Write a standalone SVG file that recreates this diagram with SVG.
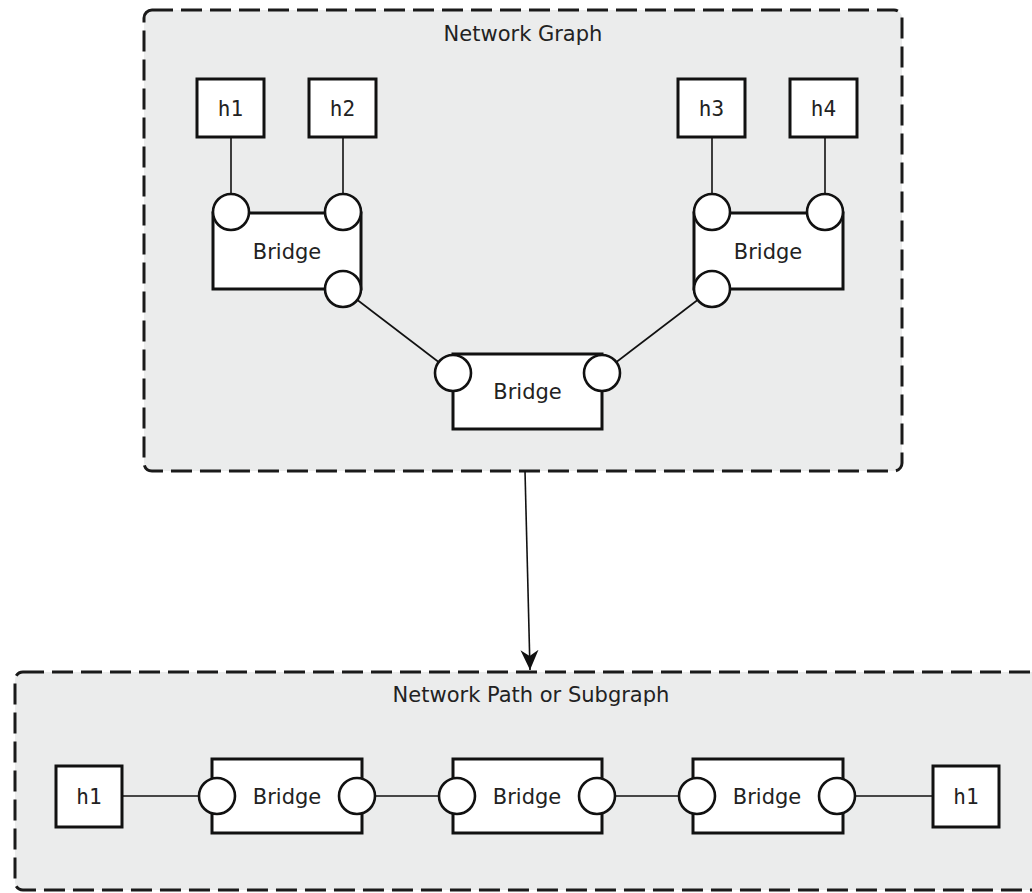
<svg xmlns="http://www.w3.org/2000/svg" width="1032" height="893" viewBox="0 0 1032 893">
<style>
.bg{fill:#fff}
.grp{fill:#ebecec;stroke:#1a1a1a;stroke-width:3;stroke-dasharray:21 8}
.box{fill:#fff;stroke:#111;stroke-width:3}
.port{fill:#fff;stroke:#111;stroke-width:2.6}
.ln{stroke:#111;stroke-width:1.6;fill:none}
.t{font-family:"DejaVu Sans",sans-serif;font-size:21px;fill:#222;text-anchor:middle}
.m{font-family:"DejaVu Sans Mono",monospace;font-size:21px;fill:#222;text-anchor:middle}
</style>
<defs>
<marker id="arr" markerWidth="22" markerHeight="20" refX="20" refY="9" orient="auto" markerUnits="userSpaceOnUse" viewBox="0 0 22 20">
<path d="M0,0 L20,9 L0,18 L6,9 Z" fill="#111"/>
</marker>
</defs>
<rect class="bg" x="0" y="0" width="1032" height="893"/>

<g id="network-graph">
<rect class="grp" x="144" y="10" width="758" height="461" rx="8"/>
<text class="t" x="523" y="41">Network Graph</text>
</g>
<g id="network-path">
<rect class="grp" x="15" y="672" width="1040" height="218" rx="8"/>
<text class="t" x="531" y="702">Network Path or Subgraph</text>
</g>

<g id="connectors">
<line class="ln" x1="231" y1="137" x2="231" y2="200"/>
<line class="ln" x1="343" y1="137" x2="343" y2="200"/>
<line class="ln" x1="712" y1="137" x2="712" y2="200"/>
<line class="ln" x1="825" y1="137" x2="825" y2="200"/>
<line class="ln" x1="343" y1="289" x2="453" y2="373"/>
<line class="ln" x1="712" y1="289" x2="602" y2="373"/>
<line class="ln" x1="122" y1="796" x2="217" y2="796"/>
<line class="ln" x1="357" y1="796" x2="457" y2="796"/>
<line class="ln" x1="597" y1="796" x2="697" y2="796"/>
<line class="ln" x1="837" y1="796" x2="933" y2="796"/>
<line class="ln" x1="525" y1="471" x2="530" y2="670" marker-end="url(#arr)"/>
</g>

<g id="h1-top"><rect class="box" x="197" y="79" width="67" height="58"/><text class="m" x="230.5" y="116">h1</text></g>
<g id="h2-top"><rect class="box" x="309" y="79" width="67" height="58"/><text class="m" x="342.5" y="116">h2</text></g>
<g id="h3-top"><rect class="box" x="678" y="79" width="67" height="58"/><text class="m" x="711.5" y="116">h3</text></g>
<g id="h4-top"><rect class="box" x="790" y="79" width="67" height="58"/><text class="m" x="823.5" y="116">h4</text></g>

<g id="bridge-left">
<rect class="box" x="213" y="213" width="148" height="76"/>
<text class="t" x="287" y="259">Bridge</text>
<circle class="port" cx="231" cy="212" r="18"/>
<circle class="port" cx="343" cy="212" r="18"/>
<circle class="port" cx="343" cy="289" r="18"/>
</g>
<g id="bridge-right">
<rect class="box" x="694" y="213" width="149" height="76"/>
<text class="t" x="768" y="259">Bridge</text>
<circle class="port" cx="712" cy="212" r="18"/>
<circle class="port" cx="825" cy="212" r="18"/>
<circle class="port" cx="712" cy="289" r="18"/>
</g>
<g id="bridge-center">
<rect class="box" x="453" y="354" width="149" height="75"/>
<text class="t" x="527.5" y="399">Bridge</text>
<circle class="port" cx="453" cy="373" r="18"/>
<circle class="port" cx="602" cy="373" r="18"/>
</g>

<g id="h1-left"><rect class="box" x="56" y="766" width="66" height="61"/><text class="m" x="89" y="804">h1</text></g>
<g id="bridge-1">
<rect class="box" x="212" y="759" width="150" height="74"/>
<text class="t" x="287" y="804">Bridge</text>
<circle class="port" cx="217" cy="796" r="18"/>
<circle class="port" cx="357" cy="796" r="18"/>
</g>
<g id="bridge-2">
<rect class="box" x="453" y="759" width="149" height="74"/>
<text class="t" x="527" y="804">Bridge</text>
<circle class="port" cx="457" cy="796" r="18"/>
<circle class="port" cx="597" cy="796" r="18"/>
</g>
<g id="bridge-3">
<rect class="box" x="693" y="759" width="150" height="74"/>
<text class="t" x="767" y="804">Bridge</text>
<circle class="port" cx="697" cy="796" r="18"/>
<circle class="port" cx="837" cy="796" r="18"/>
</g>
<g id="h1-right"><rect class="box" x="933" y="766" width="66" height="61"/><text class="m" x="966" y="804">h1</text></g>
</svg>
